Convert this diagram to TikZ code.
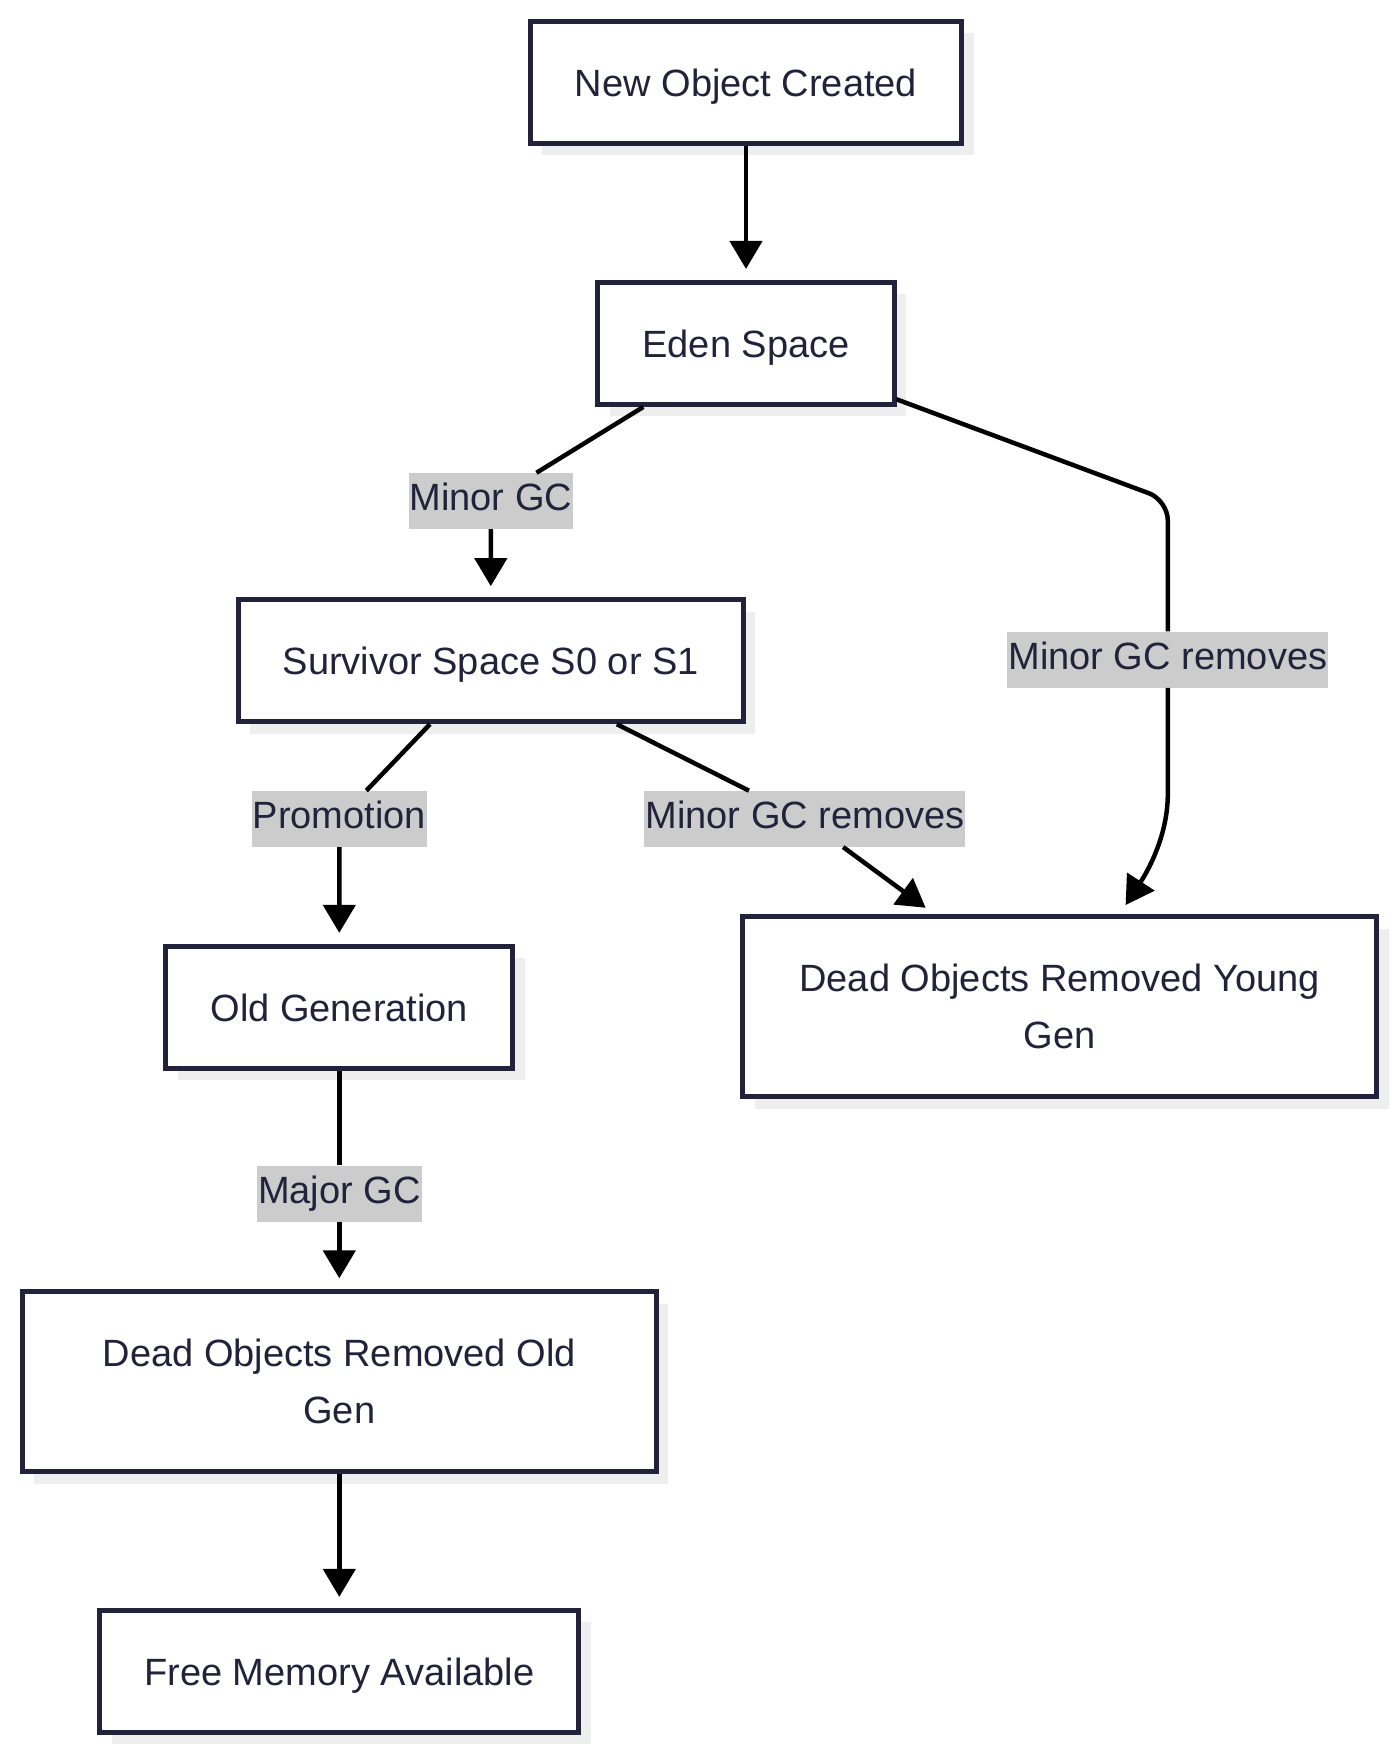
\documentclass[tikz,border=0pt]{standalone}
\usepackage{fontspec}
\setmainfont{Liberation Sans}
\usetikzlibrary{arrows.meta,positioning,shadows}
\definecolor{ink}{HTML}{22223A}
\definecolor{shade}{HTML}{EEEEEE}
\definecolor{lblgray}{HTML}{CCCCCC}

\begin{document}
\begin{tikzpicture}[x=1pt,y=1pt, node distance=134pt, every node/.style={font=\fontsize{38}{57}\selectfont,text=ink,align=center},
  frame/.style={draw=ink,line width=5pt,fill=white,general shadow={fill=shade,shadow xshift=12pt,shadow yshift=-12pt}},
  box/.style={frame,inner xsep=44.5pt,minimum height=122pt,text height=28pt,text depth=0pt},
  wide/.style={frame,minimum width=634pt,minimum height=180pt},
  lbl/.style={fill=lblgray,inner xsep=1pt,inner ysep=9pt,text height=29pt,text depth=9pt},
  a/.style={-{Triangle[length=28pt,width=32pt]},line width=4.5pt,shorten >=11pt}]
  \fill[white] (0,0) rectangle (1400,1759);
  \useasboundingbox (0,0) rectangle (1400,1759);
  % boxes
  \node[box] (new) at (746,1676.5) {New Object Created};
  \node[box,below=of new] (eden) {Eden Space};
  \node[box] (surv) at (490.8,1098.3) {Survivor Space S0 or S1};
  \node[box] (old) at (339.3,751.6) {Old Generation};
  \node[wide] (young) at (1059.6,752.2) {Dead Objects Removed Young\\Gen};
  \node[wide,below=218.5pt of old] (deadold) {Dead Objects Removed Old\\Gen};
  \node[box,below=133.5pt of deadold] (free) {Free Memory Available};
  % edge labels
  \node[lbl] (lminor) at (490.8,1258) {Minor GC};
  \node[lbl] (lrem1) at (1167.8,1099.4) {Minor GC removes};
  \node[lbl] (lpromo) at (339.3,940.1) {Promotion};
  \node[lbl] (lrem2) at (804.9,940.1) {Minor GC removes};
  \node[lbl] (lmajor) at (339.3,565.4) {Major GC};
  \coordinate (bend) at (1167.8,1258.7);
  \coordinate (drop) at (1167.8,985);
  % connectors
  \draw[a] (new) -- (eden);
  \draw[a] (eden) -- (lminor) -- (surv);
  \draw[a,rounded corners=20pt] (eden) -- (bend) -- (lrem1) -- (drop) to[out=-90,in=57] (young);
  \draw[a] (surv) -- (lpromo) -- (old);
  \draw[a] (surv) -- (lrem2) -- (young);
  \draw[a] (old) -- (lmajor) -- (deadold);
  \draw[a] (deadold) -- (free);
\end{tikzpicture}
\end{document}
